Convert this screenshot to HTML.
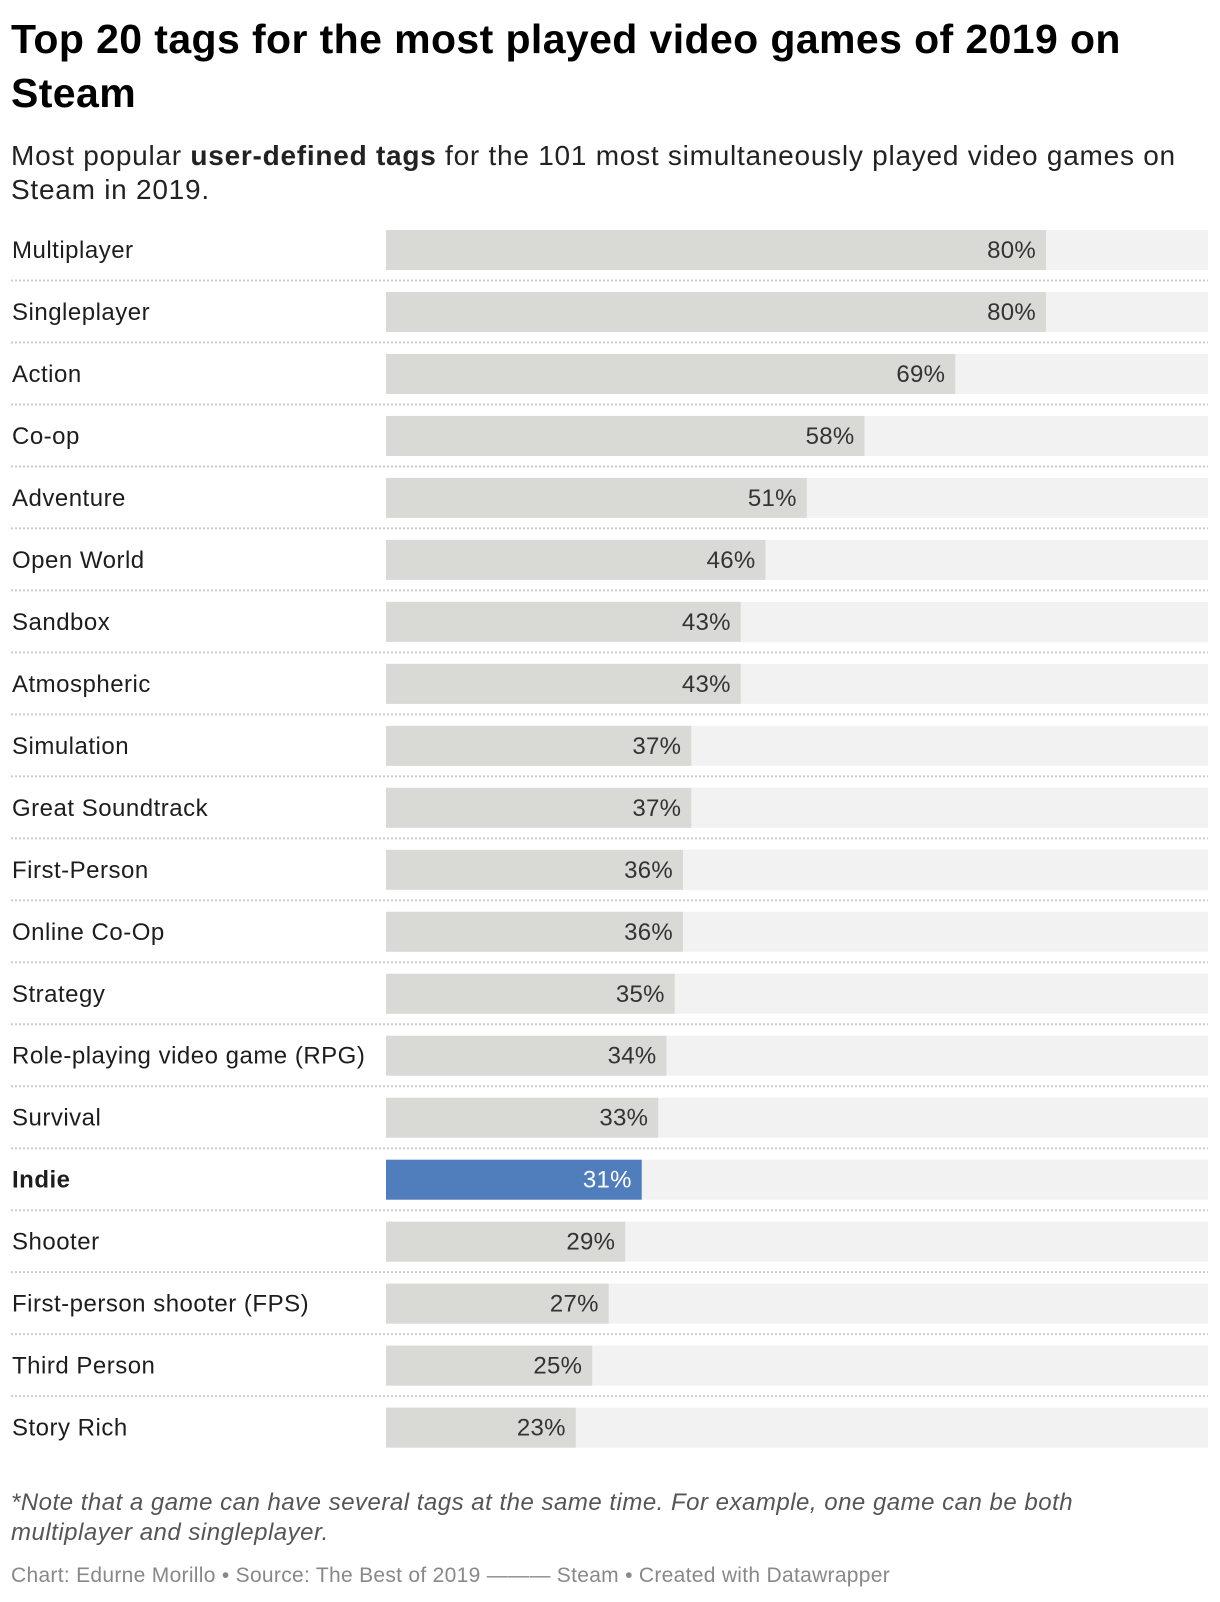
<!DOCTYPE html>
<html><head><meta charset="utf-8"><style>
body{margin:0;background:#fff;width:1220px;height:1602px;overflow:hidden;font-family:"Liberation Sans",sans-serif;color:#1d1d1d}
.t{position:absolute;left:11px;white-space:nowrap}
</style></head><body>
<div class="t" style="top:12px;font-size:41px;letter-spacing:0.4px;font-weight:bold;line-height:54px;color:#000">Top 20 tags for the most played video games of 2019 on<br>Steam</div>
<div class="t" style="top:139px;font-size:28px;letter-spacing:0.75px;line-height:34px;color:#222">Most popular <b>user-defined tags</b> for the 101 most simultaneously played video games on<br>Steam in 2019.</div>
<svg id="chart" width="1220" height="1480" style="position:absolute;left:0;top:0" xmlns="http://www.w3.org/2000/svg"></svg>
<div class="t" style="top:1488px;font-size:24px;letter-spacing:0.5px;font-style:italic;line-height:30px;color:#555">*Note that a game can have several tags at the same time. For example, one game can be both<br>multiplayer and singleplayer.</div>
<div class="t" style="top:1564px;font-size:21px;letter-spacing:0.3px;color:#888">Chart: Edurne Morillo • Source: The Best of 2019 ——— Steam • Created with Datawrapper</div>
<script>
const categories=["Multiplayer","Singleplayer","Action","Co-op","Adventure","Open World","Sandbox","Atmospheric","Simulation","Great Soundtrack","First-Person","Online Co-Op","Strategy","Role-playing video game (RPG)","Survival","Indie","Shooter","First-person shooter (FPS)","Third Person","Story Rich"];
const values=[80,80,69,58,51,46,43,43,37,37,36,36,35,34,33,31,29,27,25,23];
const highlight="Indie";
const svg=document.getElementById('chart');
const NS="http://www.w3.org/2000/svg";
const x0=386,x1=1208,top0=230,pitch=61.98,bh=40,scale=8.25;
const xs=v=>x0+v*scale;
function mk(t,a){const e=document.createElementNS(NS,t);for(const k in a)e.setAttribute(k,a[k]);svg.appendChild(e);return e;}
categories.forEach((c,i)=>{
  const y=top0+i*pitch;
  const hl=c===highlight;
  const bg=mk('rect',{x:x0,y:y,width:x1-x0,height:bh,fill:'#f2f2f2'});
  
  
  const b=mk('rect',{x:x0,y:y,width:xs(values[i])-x0,height:bh,fill:hl?'#507dbc':'#d9d9d5'});
  
  
  const l=mk('text',{x:12,y:y+28,'font-size':24,'letter-spacing':0.5,fill:'#1d1d1d','font-weight':hl?'bold':'normal'});
  l.textContent=c;
  
  
  const v=mk('text',{x:xs(values[i])-10,y:y+28,'font-size':24,'letter-spacing':0.3,fill:hl?'#fff':'#333','text-anchor':'end'});
  v.textContent=values[i]+'%';
  
  
  if(i<categories.length-1){
    const s=mk('line',{x1:11,x2:x1,y1:y+bh+10.5,y2:y+bh+10.5,stroke:'#ccc','stroke-width':2,'stroke-dasharray':'2,2'});
    
    
  }
});
</script>
</body></html>
